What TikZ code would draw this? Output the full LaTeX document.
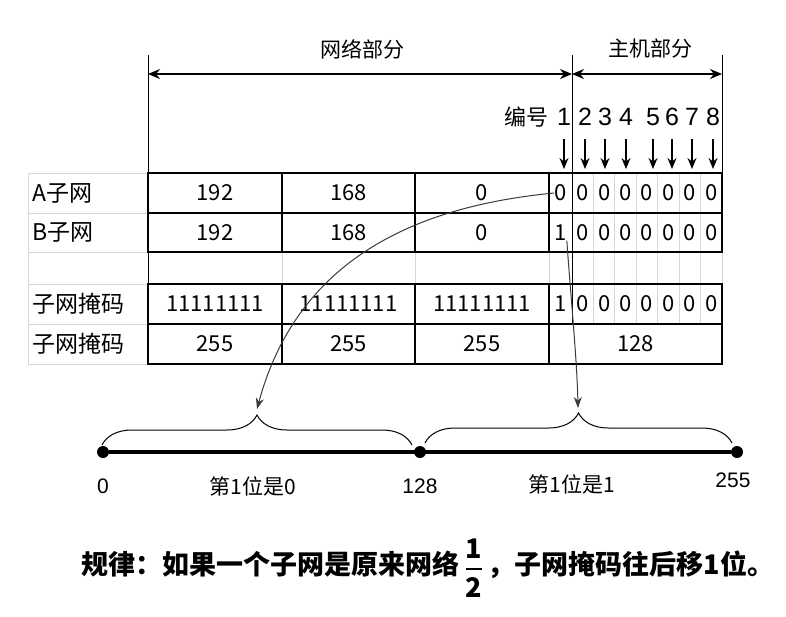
\documentclass[tikz,border=0pt]{standalone}
\usepackage{amsmath}
\usepackage{fontspec}
\setmainfont{Liberation Sans}
\newfontfamily\cjk{Noto Sans CJK SC}
\usepackage{tikz}
\usetikzlibrary{arrows.meta,decorations.pathreplacing,calc}
\definecolor{ink}{HTML}{000000}
\definecolor{gridgray}{HTML}{D6D6D6}
\definecolor{curvegray}{HTML}{3A3A3A}
\tikzset{
  thickrule/.style={draw=ink,line width=2.2pt},
  thinrule/.style={draw=ink,line width=0.8pt},
  gridrule/.style={draw=gridgray,line width=0.8pt},
  cell/.style={font=\fontsize{22}{24}\selectfont\cjk,inner sep=0pt},
  rowlabel/.style={font=\fontsize{23}{25}\selectfont\cjk,inner sep=0pt,anchor=west},
  toptext/.style={font=\fontsize{21}{23}\selectfont\cjk,inner sep=0pt},
  bitnum/.style={font=\fontsize{25}{27}\selectfont,inner sep=0pt},
  axisnum/.style={font=\fontsize{21}{23}\selectfont,inner sep=0pt},
  axistext/.style={font=\fontsize{21}{23}\selectfont\cjk,inner sep=0pt},
  dot/.style={circle,fill=ink,inner sep=0pt,minimum size=12pt},
  dimarr/.style={{Stealth[length=12pt,width=10pt]}-{Stealth[length=12pt,width=10pt]},line width=1.2pt},
  downarr/.style={-{Stealth[length=11pt,width=9pt]},line width=1.4pt},
  curvearr/.style={-{Stealth[length=11pt,width=8pt]},line width=1pt,color=curvegray},
  bracepath/.style={decorate,decoration={brace,amplitude=30pt},line width=1pt}
}

\begin{document}
\begin{tikzpicture}[x=1pt,y=-1pt]
  \useasboundingbox (0,0) rectangle (786,616);

  % network / host spans on top
  \node[toptext] (net) at (362,49) {网络部分};
  \node[toptext] (host) at (650,49) {主机部分};
  \draw[thinrule] (148,55) -- (148,364);
  \draw[thinrule] (572,55) -- (572,324);
  \draw[thinrule] (722,55) -- (722,173);
  \draw[dimarr] (148,74) -- (572,74);
  \draw[dimarr] (572,74) -- (722,74);

  % bit numbers with arrows down to the last octet
  \node[font=\fontsize{22}{24}\selectfont\cjk,inner sep=0pt] (bianhao) at (526,117) {编号};
  \foreach \x [count=\i] in {564,585,605,626,653,672,692,713} {
    \node[bitnum] (b\i) at (\x,117) {\i};
    \draw[downarr] ($(b\i)+(0,22)$) -- ++(0,30);
  }

  % light grid: label column, empty row, host bits
  \foreach \y in {173,213,252,284,324,364}
    \draw[gridrule] (28,\y) -- (148,\y);
  \draw[gridrule] (28,173) -- (28,364);
  \foreach \x in {282,415,549,722}
    \draw[gridrule] (\x,252) -- (\x,284);
  \foreach \i in {1,...,6} {
    \pgfmathsetmacro{\gx}{572+\i*150/7}
    \draw[gridrule] (\gx,173) -- (\gx,324);
  }

  % bold table frames
  \foreach \ya/\yb/\ym in {173/252/213,284/364/324} {
    \draw[thickrule] (148,\ya) rectangle (722,\yb);
    \draw[thickrule] (148,\ym) -- (722,\ym);
    \foreach \x in {282,415,549}
      \draw[thickrule] (\x,\ya) -- (\x,\yb);
  }

  % row labels
  \node[rowlabel] (la) at (32,193) {A子网};
  \node[rowlabel] (lb) at (32,232.5) {B子网};
  \node[rowlabel] (lm) at (32,304) {子网掩码};
  \node[rowlabel] (ld) at (32,344) {子网掩码};

  % octets
  \foreach \cx/\ta/\tb/\tm/\td [count=\i] in
      {215/192/192/11111111/255,348.5/168/168/11111111/255,482/0/0/11111111/255} {
    \node[cell] (a\i) at (\cx,193) {\ta};
    \node[cell] (b\i x) at (\cx,232.5) {\tb};
    \node[cell] (m\i) at (\cx,304) {\tm};
    \node[cell] (d\i) at (\cx,344) {\td};
  }
  \node[cell] (abit) at (560.5,193) {0};
  \node[cell] (bbit) at (560.5,232.5) {1};
  \node[cell] (mbit) at (560.5,304) {1};
  \foreach \j in {1,...,7} {
    \pgfmathsetmacro{\hx}{572+(\j-0.5)*150/7}
    \node[cell] (ah\j) at (\hx,193) {0};
    \node[cell] (bh\j) at (\hx,232.5) {0};
    \node[cell] (mh\j) at (\hx,304) {0};
  }
  \node[cell] (d4) at (635.5,344) {128};

  % number line 0..255
  \node[dot] (p0) at (103,452) {};
  \node[dot] (p128) at (420,452) {};
  \node[dot] (p255) at (737,452) {};
  \draw[line width=3.5pt] (p0) -- (p255);
  \draw[bracepath] (102,445) -- (412,445);
  \draw[bracepath] (425,443) -- (732,443);
  \coordinate (tipl) at (257,409);
  \coordinate (tipr) at (578,408);

  \node[axisnum] (n0) at (103,486) {0};
  \node[axistext] (half0) at (253,486) {第1位是0};
  \node[axisnum] (n128) at (420,486) {128};
  \node[axistext] (half1) at (572,484) {第1位是1};
  \node[axisnum] (n255) at (733,480) {255};

  % first host bit decides the half
  \draw[curvearr] (abit.west) .. controls (430,205) and (300,250) .. (tipl);
  \draw[curvearr] (bbit.south east) .. controls (571,300) and (577,360) .. (tipr);

  % rule
  \node[font=\fontsize{27}{29}\selectfont\cjk\bfseries,inner sep=0pt] (rule) at (428,568)
    {规律：如果一个子网是原来网络\,$\genfrac{}{}{2.5pt}{0}{\text{1}}{\text{2}}$\,，子网掩码往后移1位。};
\end{tikzpicture}
\end{document}
